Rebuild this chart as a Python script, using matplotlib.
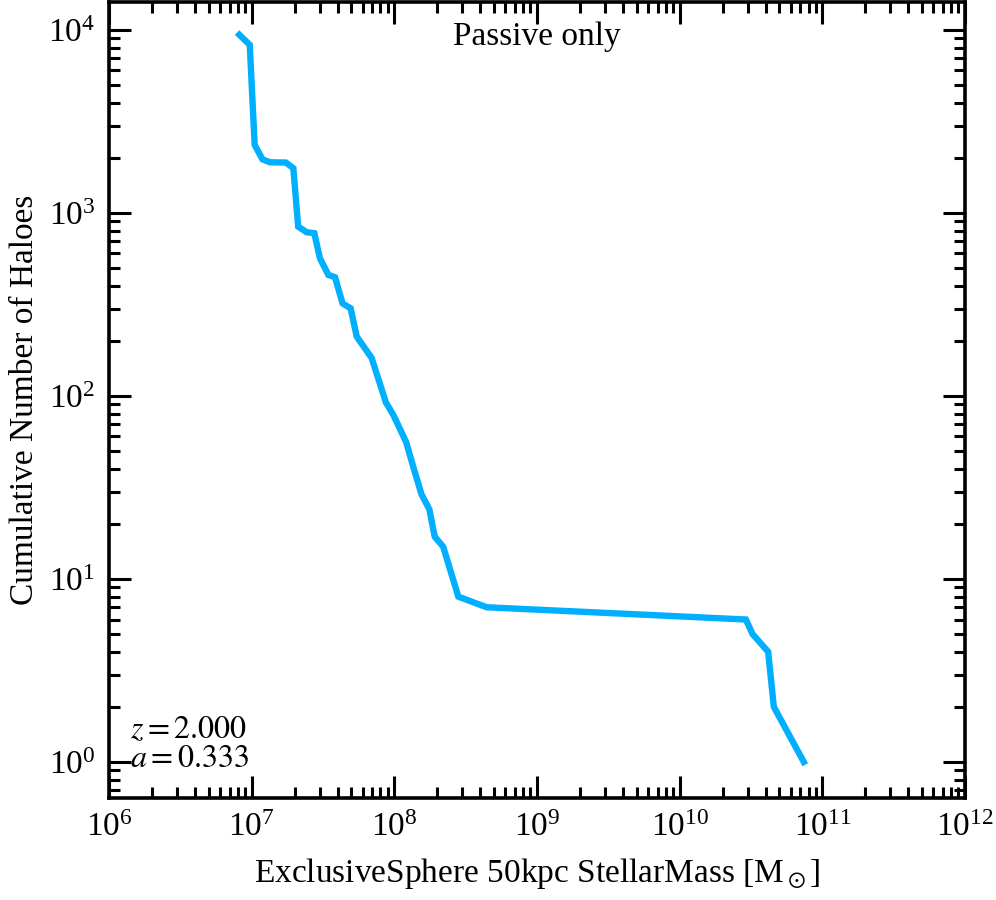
import numpy as np
import matplotlib
matplotlib.use("Agg")
import matplotlib.pyplot as plt
from matplotlib.ticker import LogLocator, NullFormatter, LogFormatterSciNotation

plt.rcParams['font.family'] = ['Liberation Serif', 'DejaVu Serif']
plt.rcParams['mathtext.fontset'] = 'stix'

# cumulative number of haloes vs stellar mass
mass = [8.2e6, 9.7e6, 1.05e7, 1.19e7, 1.34e7, 1.74e7, 1.96e7, 2.12e7, 2.43e7,
        2.75e7, 3.01e7, 3.45e7, 3.84e7, 4.34e7, 4.94e7, 5.45e7, 6.94e7,
        8.73e7, 9.82e7, 1.21e8, 1.37e8, 1.55e8, 1.76e8, 1.92e8, 2.20e8,
        2.81e8, 4.44e8, 2.91e10, 3.24e10, 4.17e10, 4.57e10, 7.41e10]
n_haloes = [9400, 8280, 2353, 1963, 1890, 1883, 1754, 841, 784,
            774, 565, 458, 445, 320, 301, 211, 161,
            92, 79, 56, 40, 29, 24, 17, 15,
            8, 7, 6, 5, 4, 2, 1]
x_ticks = [1e6, 1e7, 1e8, 1e9, 1e10, 1e11, 1e12]
y_ticks = [1e0, 1e1, 1e2, 1e3, 1e4]

fig = plt.figure(figsize=(9.96, 9.0), dpi=100)
ax = fig.add_axes([0.1094, 0.1133, 0.8595, 0.8845])

ax.plot(mass, n_haloes, "-", color="#00b0ff", lw=4.6, solid_joinstyle="miter")

ax.set_xscale("log")
ax.set_yscale("log")
ax.set_xticks(x_ticks)
ax.set_yticks(y_ticks)
ax.xaxis.set_major_formatter(LogFormatterSciNotation())
ax.yaxis.set_major_formatter(LogFormatterSciNotation())
ax.xaxis.set_minor_locator(LogLocator(base=10, subs=np.arange(2, 10), numticks=20))
ax.yaxis.set_minor_locator(LogLocator(base=10, subs=np.arange(2, 10), numticks=20))
ax.xaxis.set_minor_formatter(NullFormatter())
ax.yaxis.set_minor_formatter(NullFormatter())
ax.set_xlim(1e6, 1e12)
ax.set_ylim(0.635, 1.42e4)

ax.tick_params(which="both", direction="in", top=True, right=True, width=2.2)
ax.tick_params(which="major", length=16, labelsize=24, pad=10)
ax.tick_params(which="minor", length=8)
for s in ax.spines.values():
    s.set_linewidth(2.6)

ax.set_xlabel(r"ExclusiveSphere 50kpc StellarMass [M$_\odot$]", fontsize=24, labelpad=10)
ax.set_ylabel("Cumulative Number of Haloes", fontsize=24, labelpad=6)

ax.text(0.5, 0.975, "Passive only", transform=ax.transAxes, ha="center", va="top", fontsize=24)
ax.text(0.025, 0.03, "$z = 2.000$\n$a = 0.333$", transform=ax.transAxes,
        ha="left", va="bottom", fontsize=23, linespacing=1.0)

fig.savefig("out.png", dpi=100)
